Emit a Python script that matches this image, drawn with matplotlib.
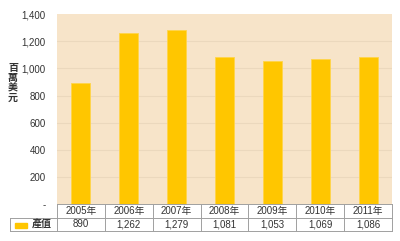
import matplotlib
matplotlib.use("Agg")
import matplotlib.pyplot as plt
from matplotlib.patches import Rectangle

plt.rcParams['font.family'] = ['Liberation Sans', 'Noto Sans CJK TC', 'DejaVu Sans']

years = ["2005年", "2006年", "2007年", "2008年", "2009年", "2010年", "2011年"]
values = [890, 1262, 1279, 1081, 1053, 1069, 1086]
value_labels = ["890", "1,262", "1,279", "1,081", "1,053", "1,069", "1,086"]
yticks = [0, 200, 400, 600, 800, 1000, 1200, 1400]
ytick_labels = ["-", "200", "400", "600", "800", "1,000", "1,200", "1,400"]
series_name = "產值"
ylabel = "百萬美元"

W, H = 400, 241
fig = plt.figure(figsize=(4.0, 2.41), dpi=100)
L, R, T, B = 57, 392, 14, 204.5
ax = fig.add_axes([L / W, 1 - B / H, (R - L) / W, (B - T) / H])

bg = "#F7E4C9"
grid_c = "#EBD8BD"
bar_c = "#FFC600"
line_c = "#A0A0A0"
txt_c = "#333333"

ax.set_facecolor(bg)
n = len(years)
x = list(range(n))
ax.bar(x, values, width=0.4, color=bar_c, edgecolor="#FFD54A", linewidth=0.6, zorder=3)
ax.set_xlim(-0.5, n - 0.5)
ax.set_ylim(0, 1400)
ax.set_yticks(yticks)
ax.set_yticklabels(ytick_labels, fontsize=7, color=txt_c)
for yv in yticks[1:-1]:
    ax.axhline(yv, color=grid_c, lw=0.8, zorder=1)
ax.set_xticks([])
ax.tick_params(axis='y', length=0, pad=8)
for s in ax.spines.values():
    s.set_visible(False)

fig.text(13 / W, 1 - 83 / H, "\n".join(ylabel), fontsize=7.2, color=txt_c,
         ha='center', va='center', linespacing=1.0, fontweight='bold',
         family=['Noto Sans CJK TC'])

def fx(px):
    return px / W

def fy(py):
    return 1 - py / H

row1_top, row1_bot, row2_bot = 204, 217.5, 231
colw = (R - L) / n
lkw = dict(color=line_c, lw=0.7, transform=fig.transFigure)
fig.add_artist(plt.Line2D([fx(L), fx(R)], [fy(row1_top), fy(row1_top)], **lkw))
fig.add_artist(plt.Line2D([fx(10), fx(R)], [fy(row1_bot), fy(row1_bot)], **lkw))
fig.add_artist(plt.Line2D([fx(10), fx(R)], [fy(row2_bot), fy(row2_bot)], **lkw))
fig.add_artist(plt.Line2D([fx(10), fx(10)], [fy(row1_bot), fy(row2_bot)], **lkw))
for i in range(n + 1):
    xp = L + i * colw
    fig.add_artist(plt.Line2D([fx(xp), fx(xp)], [fy(row1_top), fy(row2_bot)], **lkw))

for i in range(n):
    cx = L + (i + 0.5) * colw
    fig.text(fx(cx), fy((row1_top + row1_bot) / 2), years[i], fontsize=7,
             color=txt_c, ha='center', va='center')
    fig.text(fx(cx), fy((row1_bot + row2_bot) / 2), value_labels[i], fontsize=7,
             color=txt_c, ha='center', va='center')

fig.add_artist(Rectangle((fx(15), fy(228)), fx(27) - fx(15), fy(222.5) - fy(228),
                         transform=fig.transFigure, color=bar_c))
fig.text(fx(32), fy((row1_bot + row2_bot) / 2), series_name, fontsize=7.2,
         color=txt_c, ha='left', va='center', fontweight='bold',
         family=['Noto Sans CJK TC'])

fig.savefig("out.png", dpi=100)
